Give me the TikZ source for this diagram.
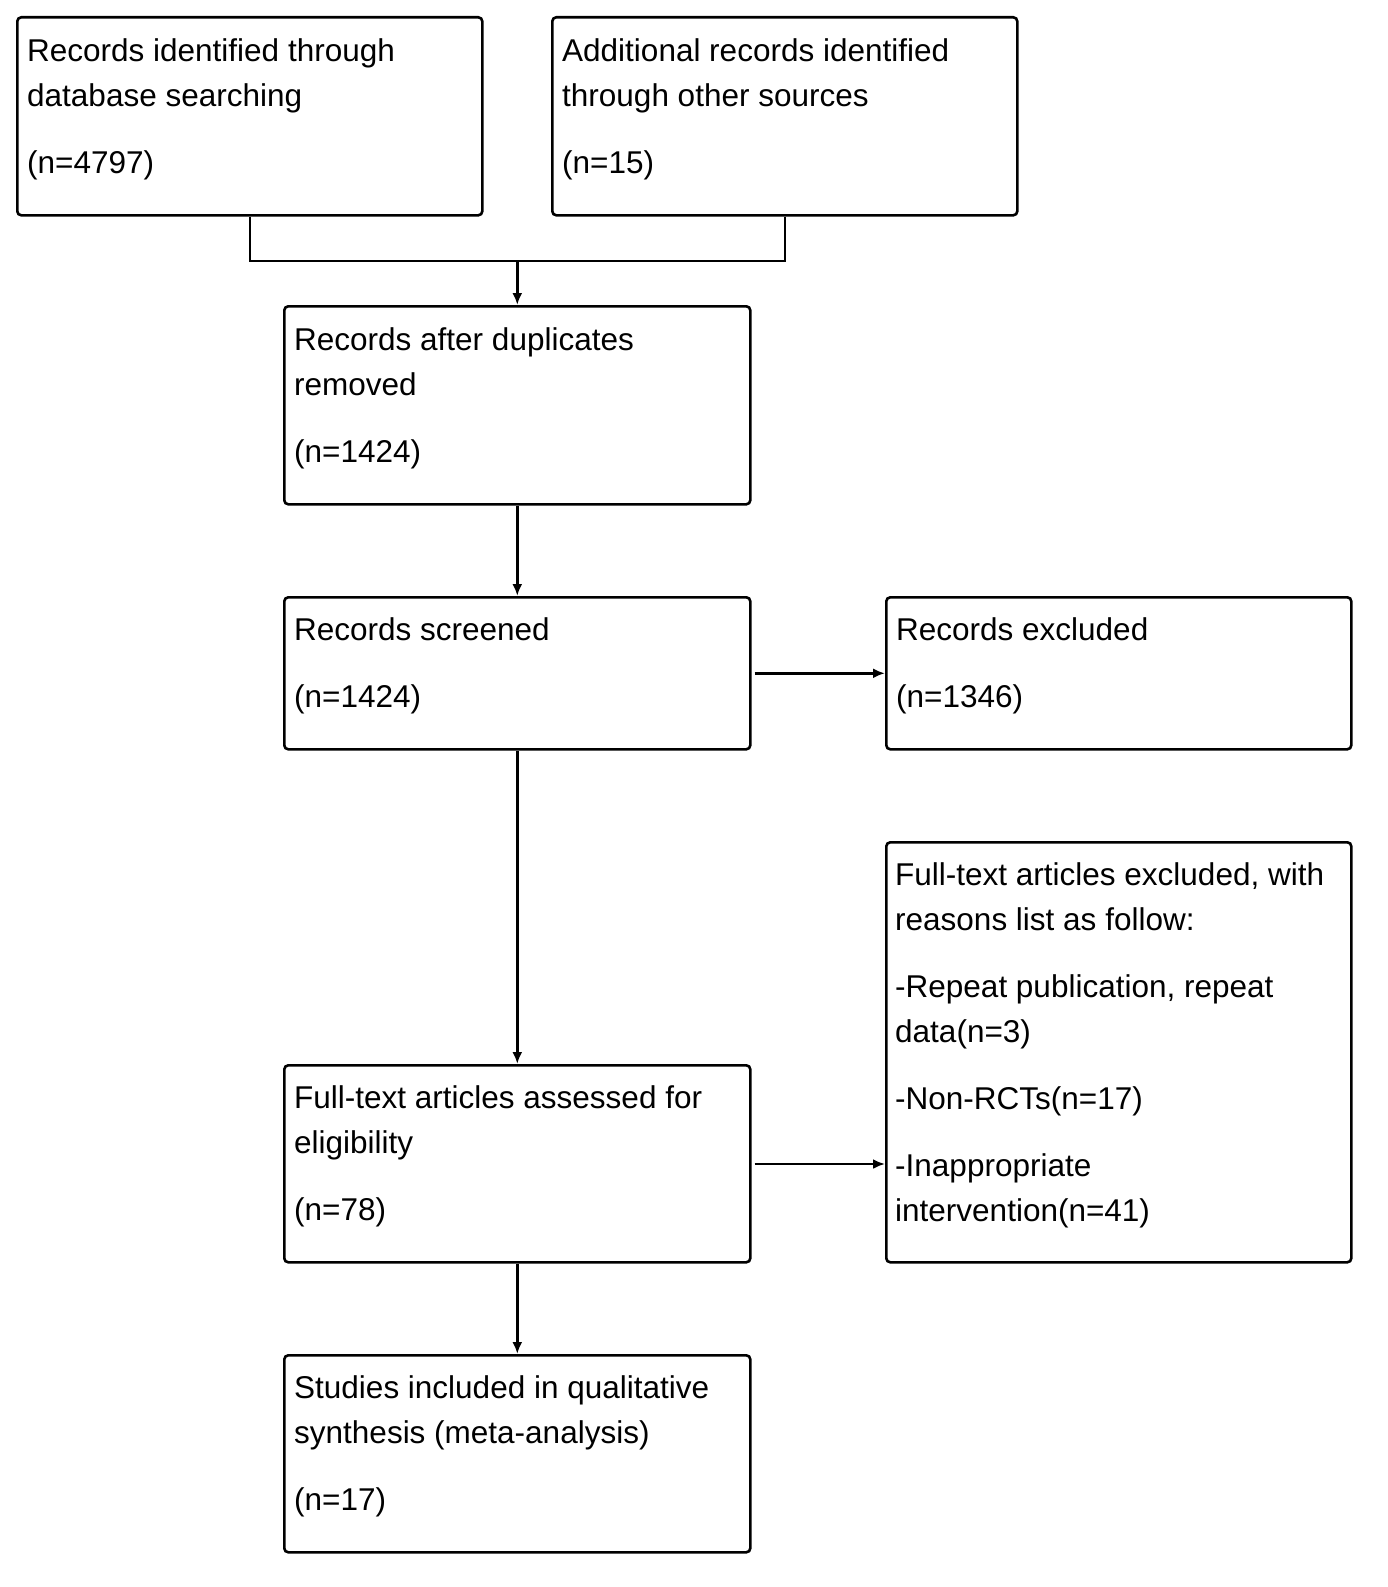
\documentclass[tikz,border=0pt]{standalone}
\usepackage{fontspec}
\setmainfont{Liberation Sans}
\usetikzlibrary{arrows.meta,calc}
\begin{document}
\begin{tikzpicture}[x=1pt,y=1pt,
  box/.style={draw, line width=2.6pt, rounded corners=4pt, rectangle, anchor=north west, inner sep=0pt},
  txt/.style={anchor=north west, align=left, inner sep=0pt, font=\fontsize{31.5}{45}\selectfont, execute at begin node=\strut},
  line/.style={line width=2.6pt},
  arr/.style={line width=2.6pt, -{Latex[length=12pt,width=10pt]}}]
\useasboundingbox (0,0) rectangle (1388,-1587);
\fill[white] (0,0) rectangle (1388,-1587);
% boxes
\node[box, minimum width=465pt, minimum height=198pt] (A) at (16,-16) {};
\node[box, minimum width=465pt, minimum height=198pt] (B) at (551,-16) {};
\node[box, minimum width=466pt, minimum height=198pt] (C) at (283,-305) {};
\node[box, minimum width=466pt, minimum height=152pt] (D) at (283,-596) {};
\node[box, minimum width=465pt, minimum height=152pt] (E) at (885,-596) {};
\node[box, minimum width=466pt, minimum height=197pt] (F) at (283,-1064) {};
\node[box, minimum width=465pt, minimum height=420pt] (G) at (885,-841) {};
\node[box, minimum width=466pt, minimum height=197pt] (H) at (283,-1354) {};
% texts
\node[txt] (At) at ($(A.north west)+(11,-22.5)$) {Records identified through\\database searching\\[22pt](n=4797)};
\node[txt] (Bt) at ($(B.north west)+(11,-22.5)$) {Additional records identified\\through other sources\\[22pt](n=15)};
\node[txt] (Ct) at ($(C.north west)+(11,-22.5)$) {Records after duplicates\\removed\\[22pt](n=1424)};
\node[txt] (Dt) at ($(D.north west)+(11,-21)$) {Records screened\\[22pt](n=1424)};
\node[txt] (Et) at ($(E.north west)+(11,-21)$) {Records excluded\\[22pt](n=1346)};
\node[txt] (Ft) at ($(F.north west)+(11,-21)$) {Full-text articles assessed for\\eligibility\\[22pt](n=78)};
\node[txt] (Gt) at ($(G.north west)+(10,-21)$) {Full-text articles excluded, with\\reasons list as follow:\\[22pt]-Repeat publication, repeat\\data(n=3)\\[22pt]-Non-RCTs(n=17)\\[22pt]-Inappropriate\\intervention(n=41)};
\node[txt] (Ht) at ($(H.north west)+(11,-21)$) {Studies included in qualitative\\synthesis (meta-analysis)\\[22pt](n=17)};
% connectors
\coordinate (m) at (C.north |- 0,-261);
\draw[line] (A.south) |- (m);
\draw[line] (B.south) |- (m);
\draw[arr] (m) -- (C.north);
\draw[arr] (C.south) -- (D.north);
\draw[arr] (D.south) -- (F.north);
\draw[arr] (F.south) -- (H.north);
\draw[arr] ([xshift=3pt]D.east) -- (E.west |- D.east);
\draw[arr] ([xshift=3pt]F.east |- 0,-1164) -- (G.west |- 0,-1164);
\end{tikzpicture}
\end{document}
